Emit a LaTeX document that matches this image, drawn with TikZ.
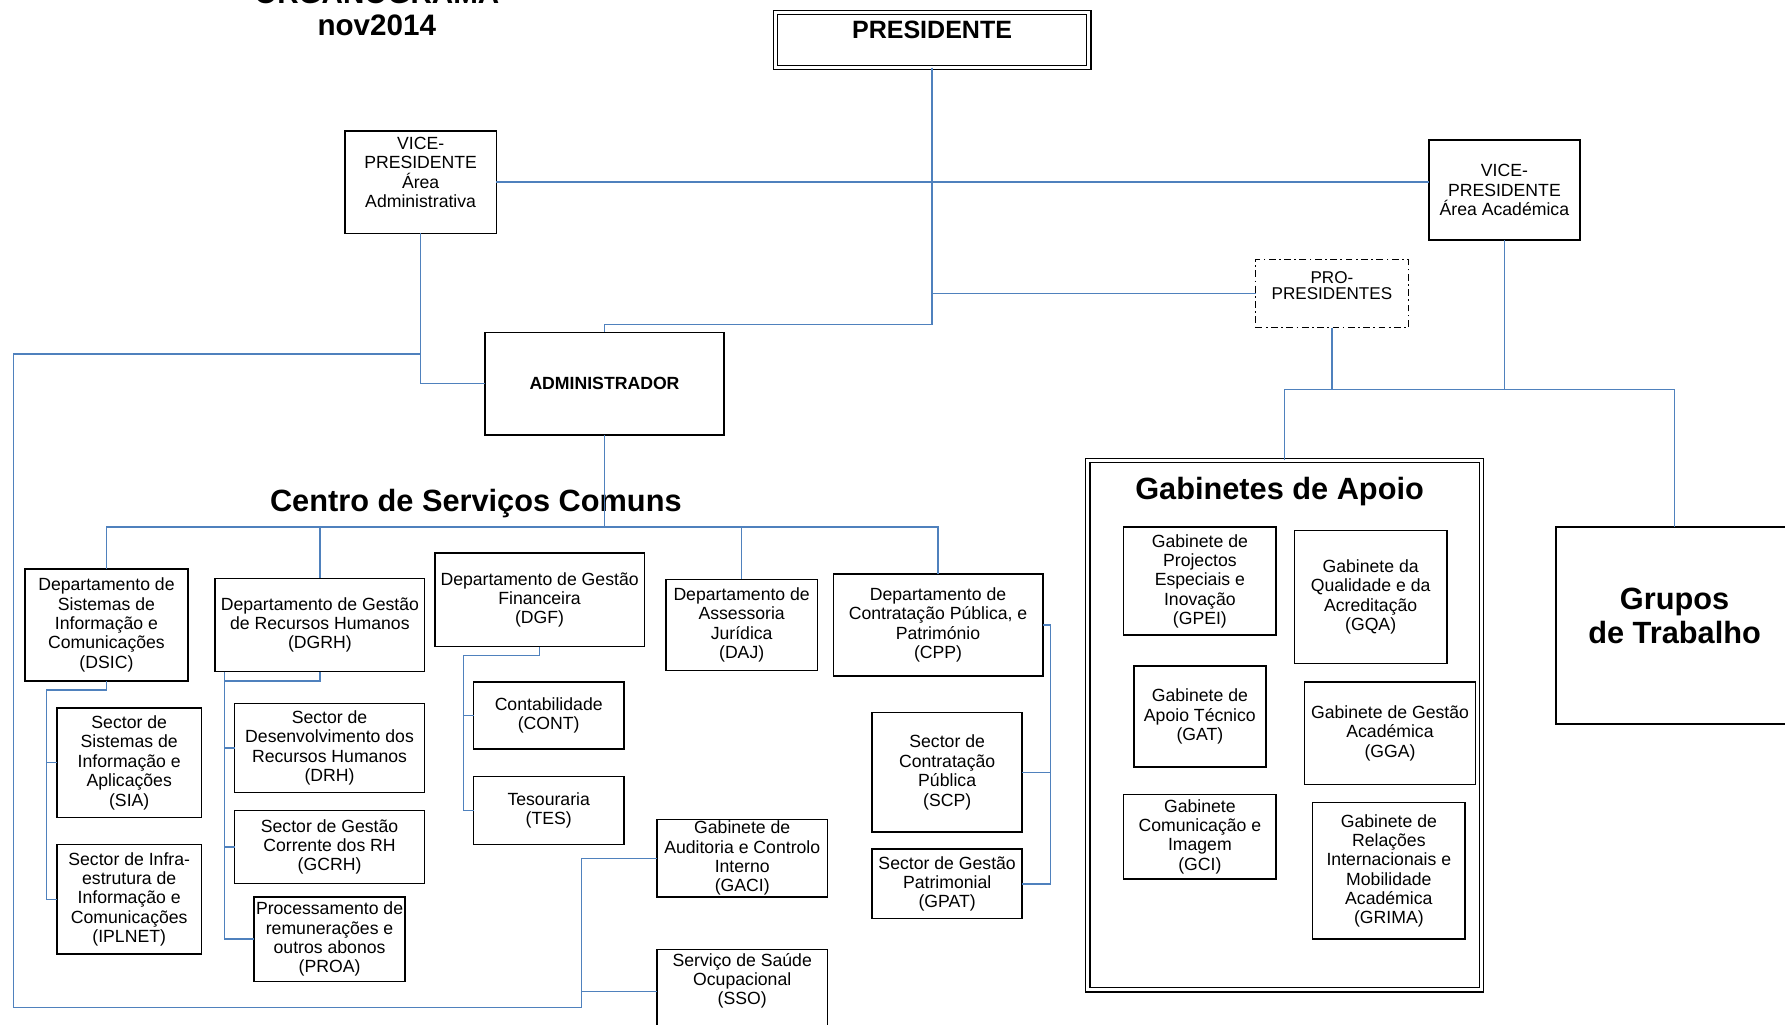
\documentclass[tikz,border=0pt]{standalone}
\usepackage{fontspec}
\setmainfont{Liberation Sans}
\usetikzlibrary{calc}
\definecolor{linkblue}{RGB}{79,129,189}
\newcommand{\orgbox}[7][]{%
	\node[unit, minimum width={(#5-#3)*1pt}, minimum height={(#6-#4)*1pt}, #1]
		(#2) at ({(#3+#5)/2},{(#4+#6)/2}) {#7};}

\begin{document}
\begin{tikzpicture}[
	x=1pt, y=-1pt,
	unit/.style={
		draw,
		line width=1.4pt,
		align=center,
		inner sep=0pt,
		outer sep=0pt,
		font=\fontsize{15.5}{17}\selectfont
	},
	head/.style={
		align=center,
		font=\bfseries\fontsize{27}{30}\selectfont
	},
	link/.style={
		draw=linkblue,
		line width=1.3pt
	},
	double frame/.style={
		double,
		double distance=2.5pt,
		line width=1.1pt
	}
]
	\useasboundingbox (0,0) rectangle (1568,900);

	% title
	\node[head, font=\bfseries\fontsize{26}{28}\selectfont, anchor=base] (orgtitle) at (331,3) {ORGANOGRAMA};
	\node[head, font=\bfseries\fontsize{26}{28}\selectfont, anchor=base] (orgdate) at (331,31) {nov2014};

	% direction
	\orgbox[double frame, font=\bfseries\fontsize{22}{24}\selectfont, text height=16pt, text depth=18pt]{pres}{681}{11}{956.5}{59.5}{PRESIDENTE}
	\orgbox{vpadm}{303}{115}{436}{205}{VICE-\\PRESIDENTE\\Área\\Administrativa\\\mbox{}}
	\orgbox{vpac}{1255}{123}{1388}{211}{VICE-\\PRESIDENTE\\Área Académica}
	\orgbox[dash pattern=on 6pt off 3pt on 1.5pt off 3pt, line width=1.1pt, font=\fontsize{15}{14}\selectfont]{pro}{1103}{228}{1237}{288}{PRO-\\PRESIDENTES\\\mbox{}}
	\orgbox[font=\bfseries\fontsize{15.5}{17}\selectfont]{admin}{426}{292}{636}{382}{ADMINISTRADOR}

	% centro de servicos comuns
	\node[head] (csctitle) at (418,442) {Centro de Serviços Comuns};
	\orgbox{dsic}{22}{500}{165}{598}{Departamento de\\Sistemas de\\Informação e\\Comunicações\\(DSIC)}
	\orgbox{dgrh}{189}{508}{373}{590}{Departamento de Gestão\\de Recursos Humanos\\(DGRH)}
	\orgbox{dgf}{382}{486}{566}{568}{Departamento de Gestão\\Financeira\\(DGF)}
	\orgbox{daj}{585}{509}{718}{589}{Departamento de\\Assessoria\\Jurídica\\(DAJ)}
	\orgbox{cpp}{732}{504}{916}{594}{Departamento de\\Contratação Pública, e\\Património\\(CPP)}

	\orgbox{sia}{50}{622}{177}{718}{Sector de\\Sistemas de\\Informação e\\Aplicações\\(SIA)}
	\orgbox{iplnet}{50}{742}{177}{838}{Sector de Infra-\\estrutura de\\Informação e\\Comunicações\\(IPLNET)}
	\orgbox{drh}{206}{618}{373}{696}{Sector de\\Desenvolvimento dos\\Recursos Humanos\\(DRH)}
	\orgbox{gcrh}{206}{712}{373}{776}{Sector de Gestão\\Corrente dos RH\\(GCRH)}
	\orgbox{proa}{223}{788}{356}{862}{Processamento de\\remunerações e\\outros abonos\\(PROA)}
	\orgbox{cont}{416}{599}{548}{658}{Contabilidade\\(CONT)}
	\orgbox{tes}{416}{682}{548}{742}{Tesouraria\\(TES)}
	\orgbox{gaci}{577}{720}{727}{788}{Gabinete de\\Auditoria e Controlo\\Interno\\(GACI)}
	\orgbox{sso}{577}{834}{727}{920}{Serviço de Saúde\\Ocupacional\\(SSO)\\\mbox{}\\\mbox{}}
	\orgbox{scp}{766}{626}{898}{731}{Sector de\\Contratação\\Pública\\(SCP)}
	\orgbox{gpat}{766}{746}{898}{807}{Sector de Gestão\\Patrimonial\\(GPAT)}

	% gabinetes de apoio
	\orgbox[double frame, line width=1.2pt, double distance=2.6pt]{gab}{955.5}{404.5}{1301.5}{869.5}{}
	\node[head] (gabtitle) at (1124,432) {Gabinetes de Apoio};
	\orgbox{gpei}{987}{463}{1121}{558}{Gabinete de\\Projectos\\Especiais e\\Inovação\\(GPEI)}
	\orgbox{gqa}{1137}{466}{1271}{583}{Gabinete da\\Qualidade e da\\Acreditação\\(GQA)}
	\orgbox{gat}{996}{585}{1112}{674}{Gabinete de\\Apoio Técnico\\(GAT)}
	\orgbox{gga}{1146}{599}{1296}{689}{Gabinete de Gestão\\Académica\\(GGA)}
	\orgbox{gci}{987}{698}{1121}{772}{Gabinete\\Comunicação e\\Imagem\\(GCI)}
	\orgbox{grima}{1153}{705}{1287}{825}{Gabinete de\\Relações\\Internacionais e\\Mobilidade\\Académica\\(GRIMA)}

	\orgbox[font=\bfseries\fontsize{27}{30}\selectfont]{grupos}{1367}{463}{1575}{636}{Grupos\\de Trabalho\\[-13pt]\mbox{}}

	% links
	\draw[link] (pres.south) -- (pres.south |- 0,285) -| (admin.north);
	\draw[link] (vpadm.east) -- (vpadm.east -| vpac.west);
	\draw[link] (pres.south |- pro.west) -- (pro.west);
	\draw[link] (vpadm.south) |- (admin.west);

	\coordinate (loopnw) at (12,311);
	\coordinate (svcbus) at (511,885);
	\draw[link] (vpadm.south |- loopnw) -- (loopnw) |- (svcbus) |- (gaci.west);
	\draw[link] (svcbus |- 0,871) -- (sso.west |- 0,871);

	\coordinate (cscbus) at (admin.south |- 0,463);
	\draw[link] (admin.south) -- (cscbus);
	\foreach \dep in {dsic,dgrh,daj,cpp}
		\draw[link] (cscbus) -| (\dep.north);

	\coordinate (acbus) at (vpac.south |- 0,342);
	\draw[link] (vpac.south) -- (acbus);
	\draw[link] (pro.south) -- (pro.south |- acbus);
	\draw[link] (gab.north) |- (acbus) -| (grupos.north);

	\coordinate (dsicbus) at (41,606);
	\draw[link] (dsic.south) |- (dsicbus) |- (iplnet.west);
	\draw[link] (sia.west) -- (sia.west -| dsicbus);

	\coordinate (dgrhbus) at (197,598);
	\draw[link] (dgrh.south) |- (dgrhbus);
	\draw[link] (dgrhbus |- dgrh.south) |- (proa.west);
	\foreach \sct in {drh,gcrh}
		\draw[link] (\sct.west) -- (\sct.west -| dgrhbus);

	\coordinate (dgfbus) at (407,576);
	\draw[link] (dgf.south) |- (dgfbus) |- (tes.west);
	\draw[link] (cont.west) -- (cont.west -| dgfbus);

	\coordinate (cppbus) at (923,549);
	\draw[link] (cpp.east) -- (cppbus) |- (gpat.east);
	\draw[link] (scp.east) -- (scp.east -| cppbus);
\end{tikzpicture}
\end{document}
